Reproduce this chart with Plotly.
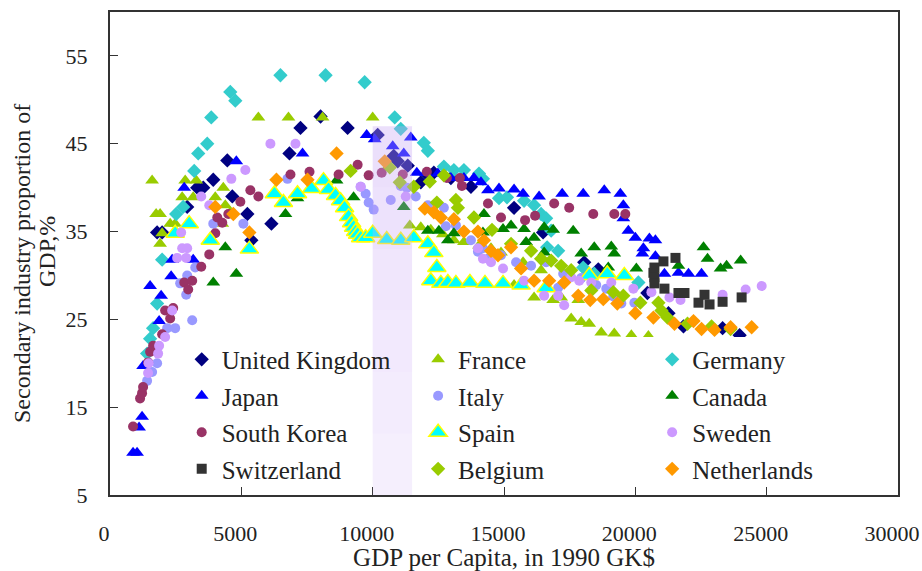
import plotly.graph_objects as go

# GDP per capita (1990 GK$) and secondary-industry share of GDP (%) by country
uk_x = [1794, 1985, 2939, 3321, 3550, 3931, 4466, 4657, 5229, 5382, 6145, 6832, 7252, 8016, 9046, 10191, 10802,
        10955, 11336, 11833, 12100, 12329, 12978, 13741, 15383, 16489, 18054, 18589, 20459, 21261, 21833, 23322, 23971]
uk_y = [34.9, 34.9, 37.8, 40.0, 40.0, 40.9, 43.1, 39.0, 37.0, 34.0, 35.9, 43.9, 46.8, 48.1, 46.8, 46.0, 43.6,
        43.0, 42.5, 40.6, 41.4, 41.7, 41.1, 40.1, 37.7, 34.9, 31.5, 30.7, 28.0, 25.7, 24.2, 24.0, 23.2]

fr_x = [1603, 1756, 1908, 1985, 1908, 2290, 2481, 2748, 2863, 3168, 3283, 4008, 4275, 4313, 4390, 4580, 5649, 6794,
        8092, 10000, 11413, 11833, 12214, 12672, 13092, 13474, 14047, 14505, 14886, 15383, 15726, 16146, 16413, 16871,
        17177, 17558, 17826, 17940, 18245, 18703, 19199, 19848, 20497]
fr_y = [40.8, 37.0, 37.0, 34.8, 33.6, 35.9, 35.9, 38.9, 40.8, 38.9, 40.8, 38.9, 35.9, 40.0, 38.0, 37.2, 48.0, 48.0,
        48.0, 48.0, 35.7, 35.5, 35.2, 34.7, 34.0, 33.8, 33.4, 33.1, 32.6, 28.9, 31.5, 27.5, 30.6, 27.2,
        27.5, 25.1, 27.2, 24.7, 24.5, 23.5, 23.4, 23.2, 23.1]

de_x = [1412, 1527, 1641, 1794, 1985, 2519, 2786, 3206, 3359, 3702, 3855, 4580, 4771, 6489, 8207, 9695, 10840, 11069,
        11947, 12100, 12711, 13092, 13474, 14047, 14199, 14810, 15115, 15764, 16146, 16413, 16604, 16795, 16642, 17062,
        18016, 18436, 20116]
de_y = [21.1, 22.8, 24.0, 26.8, 31.8, 37.0, 37.8, 41.9, 43.9, 45.0, 48.0, 50.9, 49.9, 52.8, 52.8, 52.0, 48.0, 46.7,
        45.1, 44.2, 42.4, 42.0, 42.0, 41.6, 41.0, 38.8, 38.9, 38.5, 38.0, 37.0, 36.5, 35.1, 33.2, 32.8,
        30.9, 30.2, 29.2]

jp_x = [878, 1031, 1107, 1221, 1260, 1641, 1870, 1527, 1947, 2328, 2367, 3168, 2825, 4809, 7329, 9772, 10077, 10764,
        11184, 11451, 11680, 12024, 12482, 12978, 13474, 13856, 14123, 14390, 14810, 15383, 15726, 16336, 17215, 18016,
        18818, 19429, 19543, 19543, 19734, 20001, 20306, 20268, 20535, 20764, 20764, 21108, 21642, 22024, 22520]
jp_y = [9.8, 9.8, 12.7, 13.9, 19.7, 21.8, 24.8, 28.8, 27.7, 29.9, 31.8, 31.8, 40.0, 43.0, 43.9, 46.0, 45.5, 44.7,
        43.9, 45.7, 41.7, 41.7, 41.6, 41.1, 41.1, 41.1, 40.6, 39.7, 39.9, 39.8, 39.3, 39.0, 39.3, 39.3,
        39.7, 39.3, 38.0, 36.5, 35.1, 34.3, 33.1, 32.5, 34.2, 34.0, 32.2, 30.2, 30.3, 30.2, 30.2]

it_x = [1412, 1603, 1794, 2176, 2481, 2672, 2901, 2939, 3130, 3244, 3932, 5077, 6756, 9543, 9733, 9848, 10039, 10688,
        11069, 11298, 11642, 12100, 12711, 12787, 13169, 13741, 14008, 14199, 14390, 14886, 15459, 16031, 16604, 17062,
        17253, 17940, 18512, 18894, 19161, 19467, 19963]
it_y = [18.0, 19.0, 20.0, 24.0, 24.0, 29.1, 27.8, 30.0, 24.9, 30.9, 35.9, 35.9, 41.0, 40.1, 39.3, 38.3, 37.5, 38.6,
        40.2, 40.0, 39.0, 38.0, 37.7, 35.6, 35.7, 34.0, 32.7, 33.1, 31.9, 32.3, 31.5, 31.1, 31.5, 28.6,
        30.2, 29.7, 28.9, 28.5, 27.6, 26.8, 26.9]

ca_x = [3932, 4390, 4809, 6680, 7138, 8626, 9275, 11184, 12100, 12520, 12863, 13092, 14237, 14199, 14963, 15268, 15764,
        15841, 16146, 16528, 16528, 16871, 17635, 17940, 18436, 18970, 19085, 19199, 20039, 21642, 22596, 22749, 23245,
        23474, 24009]
ca_y = [29.2, 33.2, 30.2, 37.0, 38.8, 40.8, 38.9, 37.8, 35.1, 35.1, 34.0, 34.8, 37.0, 34.9, 35.3, 35.7, 35.3,
        33.8, 34.3, 35.5, 32.6, 35.2, 35.1, 32.5, 33.2, 30.9, 33.3, 32.5, 30.8, 31.1, 33.2, 31.9, 30.8,
        31.1, 31.7]

kr_x = [878, 1145, 1221, 1260, 1450, 1527, 1641, 1985, 2099, 2290, 2405, 2825, 2977, 3130, 3474, 3779, 4008, 4084,
        4275, 4504, 4962, 5344, 5649, 6871, 7596, 8703, 9428, 9848, 10344, 11146, 12062, 12825, 13321, 13398, 14390,
        14886, 15802, 16184, 16909, 17482, 18398, 19199, 19619]
kr_y = [12.8, 16.0, 16.6, 17.3, 20.1, 21.3, 22.0, 23.3, 26.0, 25.1, 26.3, 29.2, 28.4, 29.4, 31.0, 32.4, 34.8, 36.6,
        36.0, 37.0, 38.4, 39.7, 39.0, 41.5, 41.8, 41.5, 42.6, 41.4, 41.7, 41.5, 41.8, 41.1, 41.1, 40.2, 38.2,
        36.6, 36.3, 36.8, 38.2, 37.7, 37.0, 37.0, 37.0]

es_x = [2481, 3015, 3817, 5306, 6260, 6603, 7138, 7672, 8130, 8321, 8588, 8779, 8932, 9084, 9199, 9275, 9352, 9428,
        9543, 9733, 10000, 10535, 11069, 11565, 12100, 12329, 12443, 12214, 12596, 12863, 13169, 13703, 14276, 14963,
        15650, 16604, 18245, 18932, 19581]
es_y = [34.8, 35.9, 34.0, 33.0, 39.3, 38.3, 39.3, 39.9, 40.8, 39.8, 39.1, 38.5, 37.7, 36.7, 36.0, 35.5, 35.0, 34.7,
        34.3, 34.3, 34.8, 34.1, 34.0, 34.3, 33.6, 32.6, 30.9, 29.4, 29.1, 29.2, 29.1, 29.2, 29.1, 29.1,
        28.9, 28.6, 30.0, 30.2, 30.0]

se_x = [1450, 1470, 1832, 1870, 2099, 2367, 2557, 2710, 2748, 2901, 2939, 3474, 3779, 4619, 5153, 6107, 7061, 9543,
        11260, 14008, 14199, 14505, 14963, 15764, 16528, 17062, 17291, 17558, 17864, 18322, 19085, 19925, 20612, 21299,
        21719, 23322, 24200, 24811]
se_y = [18.9, 20.0, 21.1, 22.0, 23.0, 26.0, 32.0, 34.9, 33.1, 32.0, 33.1, 39.0, 38.0, 41.0, 42.0, 45.0, 45.0, 40.1,
        39.0, 33.1, 31.9, 31.5, 30.8, 29.4, 27.7, 27.7, 26.6, 29.8, 29.4, 29.2, 29.2, 28.5, 28.1, 27.5,
        27.2, 27.8, 28.4, 28.8]

ch_x = [20688, 20726, 20726, 20726, 21070, 21108, 21528, 21642, 21871, 22405, 22634, 22825, 23322, 24047]
ch_y = [30.3, 30.9, 29.8, 29.1, 31.6, 28.5, 32.0, 28.0, 28.0, 26.9, 27.8, 26.7, 27.0, 27.5]

be_x = [9161, 10650, 11031, 11565, 12176, 12711, 12443, 13169, 13245, 13856, 14543, 15268, 16031, 16413, 16795, 17177,
        17558, 18322, 19161, 19543, 20192, 20879, 20994, 21223, 21986, 22902, 23627]
be_y = [41.9, 42.3, 40.6, 40.1, 40.7, 41.4, 38.3, 38.6, 37.7, 36.6, 35.2, 33.6, 32.8, 31.9, 31.7, 31.1,
        30.6, 28.3, 28.1, 27.7, 26.9, 26.9, 26.0, 25.2, 24.5, 24.2, 23.9]

nl_x = [4008, 4695, 5306, 6336, 7519, 8626, 10459, 11985, 12329, 12596, 13092, 13474, 14008, 14237, 14505, 14772,
        15268, 15650, 16146, 16719, 17291, 17826, 18283, 18780, 19314, 20001, 20688, 21490, 22215, 22520, 23016,
        23627, 24429]
nl_y = [37.8, 37.0, 34.9, 40.9, 40.9, 43.9, 43.0, 37.6, 37.2, 36.6, 36.4, 35.0, 35.0, 34.0, 32.8, 32.3,
        33.2, 30.8, 29.4, 29.4, 29.2, 27.7, 27.2, 27.3, 26.8, 25.7, 25.2, 24.5, 24.8, 23.9, 23.8,
        24.1, 24.1]

x_ticks = [0, 5000, 10000, 15000, 20000, 25000, 30000]
y_ticks = [5, 15, 25, 35, 45, 55]

FONT = "Liberation Serif, Times New Roman, serif"
TXT = "#222222"

# name, x, y, symbol, color, size, outline color, outline width, legend column
series = [
    ("United Kingdom", uk_x, uk_y, "diamond", "#000080", 11, None, 0, "legend"),
    ("France", fr_x, fr_y, "triangle-up", "#99CC00", 12, None, 0, "legend2"),
    ("Germany", de_x, de_y, "diamond", "#33CCCC", 11, None, 0, "legend3"),
    ("Japan", jp_x, jp_y, "triangle-up", "#0000FF", 12, None, 0, "legend"),
    ("Italy", it_x, it_y, "circle", "#9999FF", 10, None, 0, "legend2"),
    ("Canada", ca_x, ca_y, "triangle-up", "#008000", 12, None, 0, "legend3"),
    ("South Korea", kr_x, kr_y, "circle", "#993366", 10, None, 0, "legend"),
    ("Spain", es_x, es_y, "triangle-up", "#00FFFF", 16, "#FFFF00", 1.5, "legend2"),
    ("Sweden", se_x, se_y, "circle", "#CC99FF", 10, None, 0, "legend3"),
    ("Switzerland", ch_x, ch_y, "square", "#333333", 10, None, 0, "legend"),
    ("Belgium", be_x, be_y, "diamond", "#99CC00", 11, None, 0, "legend2"),
    ("Netherlands", nl_x, nl_y, "diamond", "#FF9900", 11, None, 0, "legend3"),
]

fig = go.Figure()
for name, xs, ys, sym, col, size, lcol, lw, leg in series:
    fig.add_trace(go.Scatter(
        x=xs, y=ys, mode="markers", name=name, legend=leg, legendgroup=name,
        marker=dict(symbol=sym, color=col, size=size,
                    line=dict(color=lcol if lcol else col, width=lw)),
    ))

shapes = [
    # white panel behind the legend block
    dict(type="rect", xref="x", yref="y", x0=3050, x1=28500, y0=6.1, y1=23.0,
         fillcolor="white", line=dict(width=0), layer="above"),
]
# shaded band between 10000 and 11500 GK$, fading towards the bottom
bands = [(40, 47, 0.36), (33, 40, 0.32), (26, 33, 0.28), (19, 26, 0.24), (12, 19, 0.21), (5, 12, 0.18)]
for y0, y1, a in bands:
    shapes.append(dict(type="rect", xref="x", yref="y", x0=10000, x1=11500, y0=y0, y1=y1,
                       fillcolor=f"rgba(200,165,245,{a})", line=dict(width=0), layer="above"))

legend_common = dict(
    bgcolor="rgba(0,0,0,0)", font=dict(family=FONT, size=25, color=TXT),
    traceorder="grouped", tracegroupgap=1, itemsizing="trace",
    xanchor="left", yanchor="top", orientation="v",
)

fig.update_layout(
    width=922, height=571,
    margin=dict(l=110, r=24, t=12, b=76, autoexpand=False),
    paper_bgcolor="white", plot_bgcolor="white",
    font=dict(family=FONT, color=TXT),
    shapes=shapes,
    legend=dict(x=0.091, y=0.328, **legend_common),
    legend2=dict(x=0.391, y=0.328, **legend_common),
    legend3=dict(x=0.688, y=0.328, **legend_common),
    xaxis=dict(
        range=[0, 30000], tickvals=x_ticks, ticktext=[str(v) for v in x_ticks],
        showgrid=False, zeroline=False, automargin=False,
        showline=True, linecolor="#333333", linewidth=2, mirror=True,
        ticks="inside", ticklen=8, tickwidth=1, tickcolor="#333333",
        tickfont=dict(family=FONT, size=22, color=TXT),
        ticklabelstandoff=18, ticklabelshift=-6,
        title=dict(text="GDP per Capita, in 1990 GK$", font=dict(family=FONT, size=25, color=TXT), standoff=2),
    ),
    yaxis=dict(
        range=[5, 60], tickvals=y_ticks, ticktext=[str(v) for v in y_ticks],
        showgrid=False, zeroline=False, automargin=False,
        showline=True, linecolor="#333333", linewidth=2, mirror=True,
        ticks="inside", ticklen=8, tickwidth=1, tickcolor="#333333",
        tickfont=dict(family=FONT, size=22, color=TXT),
        ticklabelstandoff=16,
    ),
    annotations=[
        dict(text="Secondary industry proportion of", xref="paper", yref="paper",
             x=(22 - 110) / 788, y=(495 - 264) / 483, xanchor="center", yanchor="middle",
             textangle=-90, showarrow=False, font=dict(family=FONT, size=24, color=TXT)),
        dict(text="GDP,%", xref="paper", yref="paper",
             x=(47 - 110) / 788, y=(495 - 252) / 483, xanchor="center", yanchor="middle",
             textangle=-90, showarrow=False, font=dict(family=FONT, size=24, color=TXT)),
    ],
)

fig.write_html("out.html")
